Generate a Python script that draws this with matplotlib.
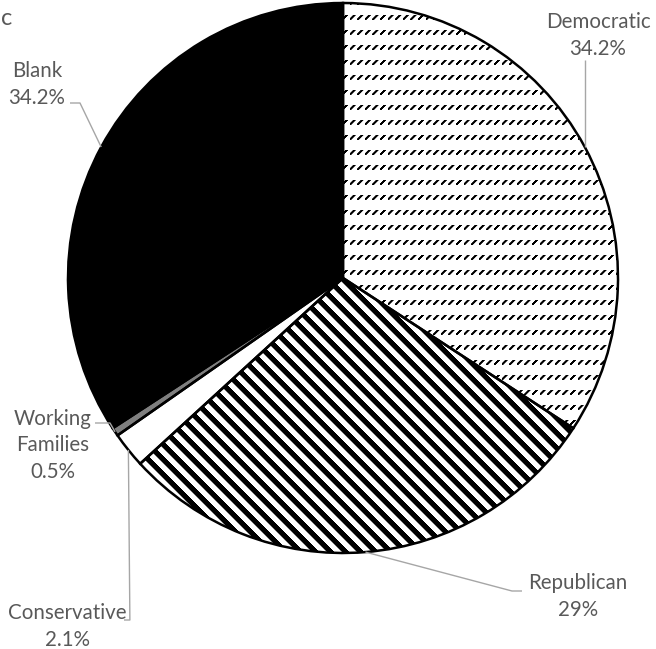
import numpy as np
import matplotlib
matplotlib.use("Agg")
import matplotlib.pyplot as plt

# ---- data ----
parties = ["Democratic", "Republican", "Conservative", "Working Families", "Blank"]
shares = [34.2, 29.0, 2.1, 0.5, 34.2]
share_labels = ["34.2%", "29%", "2.1%", "0.5%", "34.2%"]
display_names = ["Democratic", "Republican", "Conservative", "Working\nFamilies", "Blank"]

# ---- layout / style ----
W, H, DPI = 656, 649, 100
CX, CY, R = 343, H - 278, 275
TXT = "#595959"
LEAD = "#a6a6a6"
FONT = "Lato"
FS = 14.8
LINE_STEP = 26.7  # px between baselines

def top(y):
    return H - y

fig = plt.figure(figsize=(W / DPI, H / DPI), dpi=DPI)
ax = fig.add_axes([0, 0, 1, 1])

fills = ["white", "white", "white", "#7f7f7f", "black"]
wedges, _ = ax.pie(shares, center=(CX, CY), radius=R, startangle=90,
                   counterclock=False, colors=fills,
                   wedgeprops=dict(linewidth=0))
for w in wedges:
    w.set_zorder(1)

# pattern fills (pixel textures clipped to wedges)
yy, xx = np.mgrid[0:H, 0:W].astype(float) + 0.5
# dashed upward diagonal
px, py = 7.6, 15.0
u = xx % px
v = yy % py
d = np.abs(u + v - 5.0)
a_dem = np.clip(2.0 - d, 0, 1) * ((v >= 0.3) & (v < 4.8))
dem = np.zeros((H, W, 4))
dem[..., 3] = a_dem
# wide downward diagonal
s = (xx - yy) % 15.0
a_rep = np.clip(np.minimum(s, 7.5 - s) + 0.5, 0, 1) * (s < 8)
rep = np.zeros((H, W, 4))
rep[..., 3] = a_rep

for arr, wi in [(dem, 0), (rep, 1)]:
    im = ax.imshow(arr, extent=(0, W, 0, H), origin="upper",
                   interpolation="nearest", zorder=2, aspect="auto")
    im.set_clip_path(wedges[wi])

edges, _ = ax.pie(shares, center=(CX, CY), radius=R, startangle=90,
                  counterclock=False,
                  wedgeprops=dict(fill=False, edgecolor="black", linewidth=1.8))
for e in edges:
    e.set_zorder(3)

# anchors on the rim at mid-angle of each slice
cum = np.cumsum(shares)
mid = (cum - np.array(shares) / 2) / 100.0
theta = np.deg2rad(90 - 360 * mid)
anc_x = CX + R * np.cos(theta)
anc_y = CY + R * np.sin(theta)

# label placement (x centre, baseline of last line), pixel coords from top
label_pos = [(598, 55), (578, 616), (67, 646), (53, 478), (37, 104)]
# leader-line start / elbow points (pixel coords from top)
leader_pts = [
    [(583, 60), None],
    [(522, 591), (512, 591)],
    [(124, 620), "vx"],
    [(95, 423), (110, 423)],
    [(70, 103), (80, 103)],
]

for i in range(len(parties)):
    lx, ly = label_pos[i]
    lines = display_names[i].split("\n") + [share_labels[i]]
    n = len(lines)
    for k, ln in enumerate(lines):
        by = ly - LINE_STEP * (n - 1 - k)
        ax.text(lx, top(by), ln, ha="center", va="baseline",
                fontsize=FS, family=FONT, color=TXT, zorder=5)
    p0, p1 = leader_pts[i]
    xs, ys = [p0[0]], [top(p0[1])]
    if p1 is None:
        xs.append(anc_x[i]); ys.append(top(p0[1]))
        xs[0] = anc_x[i]
    elif p1 == "vx":
        xs.append(anc_x[i] + 1.5); ys.append(top(p0[1]))
    else:
        xs.append(p1[0]); ys.append(top(p1[1]))
    xs.append(anc_x[i]); ys.append(anc_y[i])
    ax.plot(xs, ys, color=LEAD, linewidth=1.0, zorder=4, solid_capstyle="butt")

# cropped title remnant
ax.text(1, top(25), "c", ha="left", va="baseline", fontsize=17,
        family=FONT, color=TXT)

ax.set_xlim(0, W)
ax.set_ylim(0, H)
ax.set_aspect("auto")
ax.axis("off")
fig.savefig("out.png", dpi=DPI, facecolor="white")
